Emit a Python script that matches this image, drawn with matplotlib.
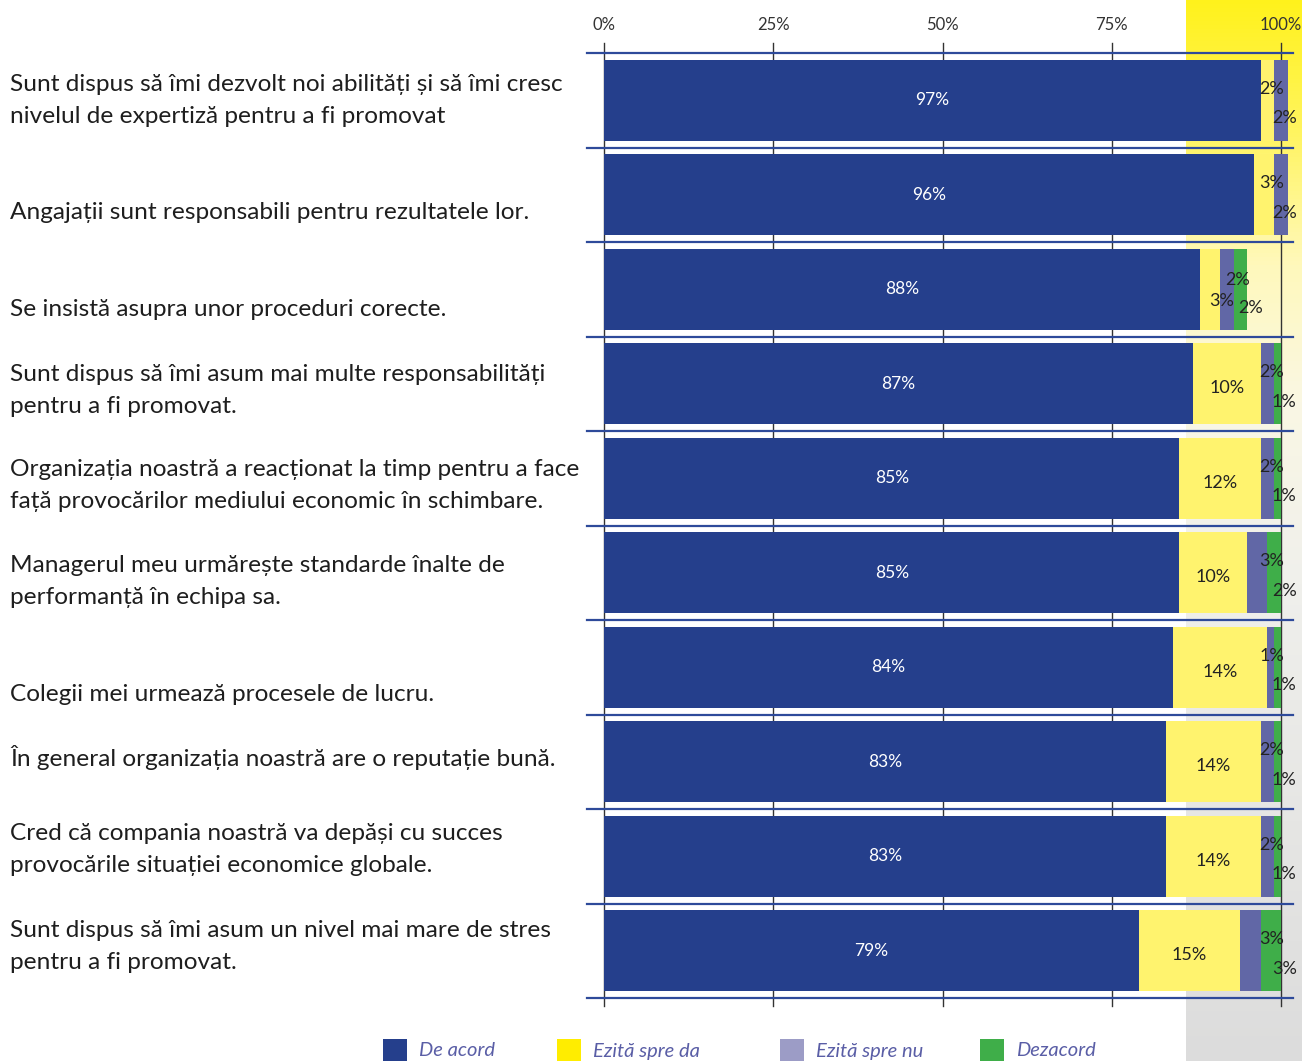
import numpy as np
import matplotlib
matplotlib.use("Agg")
import matplotlib.pyplot as plt
from matplotlib.colors import LinearSegmentedColormap
from matplotlib.patches import Rectangle
import matplotlib.transforms as mtransforms

plt.rcParams['font.family'] = ['Lato', 'DejaVu Sans']

categories = [
    "Sunt dispus să îmi dezvolt noi abilități și să îmi cresc\nnivelul de expertiză pentru a fi promovat",
    "Angajații sunt responsabili pentru rezultatele lor.",
    "Se insistă asupra unor proceduri corecte.",
    "Sunt dispus să îmi asum mai multe responsabilități\npentru a fi promovat.",
    "Organizația noastră a reacționat la timp pentru a face\nfață provocărilor mediului economic în schimbare.",
    "Managerul meu urmărește standarde înalte de\nperformanță în echipa sa.",
    "Colegii mei urmează procesele de lucru.",
    "În general organizația noastră are o reputație bună.",
    "Cred că compania noastră va depăși cu succes\nprovocările situației economice globale.",
    "Sunt dispus să îmi asum un nivel mai mare de stres\npentru a fi promovat.",
]
de_acord = [97, 96, 88, 87, 85, 85, 84, 83, 83, 79]
spre_da = [2, 3, 3, 10, 12, 10, 14, 14, 14, 15]
spre_nu = [2, 2, 2, 2, 2, 3, 1, 2, 2, 3]
dezacord = [0, 0, 2, 1, 1, 2, 1, 1, 1, 3]

series_names = ["De acord", "Ezită spre da", "Ezită spre nu", "Dezacord"]
bar_colors = ["#253F8C", "#FFF36E", "#6167A6", "#3FAE49"]
legend_colors = ["#253F8C", "#FFED00", "#9C9CC6", "#3FAE49"]
x_ticks = [0, 25, 50, 75, 100]

# vertical nudges for the question text (in row units)
label_shift = [0, .19, .21, .07, .08, .09, .29, -.04, -.07, -.04]

W, H = 1302, 1061
fig = plt.figure(figsize=(W / 100, H / 100), dpi=100)
fig.patch.set_facecolor("white")

# yellow -> grey band on the right
bg = fig.add_axes([1186 / W, 0, 1 - 1186 / W, 1], zorder=-5)
cmap = LinearSegmentedColormap.from_list("band", [
    (0.0, "#FFF21C"), (0.12, "#FFF45E"), (0.25, "#FFF9BC"),
    (0.38, "#FAF7E4"), (0.55, "#F0F0EC"), (1.0, "#DCDCDC")])
grad = np.linspace(0, 1, 256).reshape(-1, 1)
bg.imshow(grad, aspect="auto", cmap=cmap, extent=[0, 1, 1, 0])
bg.axis("off")

ax = fig.add_axes([604 / W, 1 - 998 / H, 677 / W, (998 - 53) / H])
ax.patch.set_alpha(0)
ax.set_xlim(0, 100)
ax.set_ylim(9.5, -0.5)
ax.axis("off")

n = len(categories)
y = np.arange(n)
series = [de_acord, spre_da, spre_nu, dezacord]

# grid lines behind the bars
for t in x_ticks:
    ax.plot([t, t], [-0.61, 9.58], color="#333333", lw=1, zorder=1, clip_on=False)
    ax.text(t, -0.80, f"{t}%", ha="center", va="center", fontsize=12,
            color="#333333", clip_on=False)
for s in np.arange(-0.5, n, 1.0):
    ax.plot([-2.5, 101.8], [s, s], color="#2E4A9A", lw=1.6, zorder=2, clip_on=False)

left = np.zeros(n)
for vals, col in zip(series, bar_colors):
    ax.barh(y, vals, left=left, height=0.86, color=col, zorder=3, clip_on=False)
    left = left + np.array(vals)
totals = left

for i in range(n):
    # big segments: centred labels
    ax.text(de_acord[i] / 2, i, f"{de_acord[i]}%", ha="center", va="center",
            color="white", fontsize=12.5, zorder=5)
    small = []
    if spre_da[i] >= 5:
        ax.text(de_acord[i] + spre_da[i] / 2, i + 0.05, f"{spre_da[i]}%",
                ha="center", va="center", color="#222222", fontsize=13, zorder=5)
    else:
        small.append(spre_da[i])
    small += [v for v in (spre_nu[i], dezacord[i]) if v > 0]
    # small segments are stacked around the end of the bar
    end = min(totals[i], 100)
    if len(small) == 3:
        spots = [(-3.7, 0.12), (-1.4, -0.10), (0.5, 0.20)]
    else:
        spots = [(-1.4, -0.12), (0.5, 0.19)]
    for v, (dx, dy) in zip(small, spots):
        ax.text(end + dx, i + dy, f"{v}%", ha="center", va="center", color="#222222",
                fontsize=13, zorder=6, clip_on=False)

trans = mtransforms.blended_transform_factory(fig.transFigure, ax.transData)
for i, cat in enumerate(categories):
    ax.text(10 / W, i + label_shift[i], cat, transform=trans, ha="left", va="center",
            fontsize=17.6, color="#1E1E1E", linespacing=1.65)

# legend row at the bottom
leg_x = [383, 557, 780, 980]
for name, col, lx in zip(series_names, legend_colors, leg_x):
    fig.patches.append(Rectangle((lx / W, 0), 24 / W, 22 / H, transform=fig.transFigure,
                                 facecolor=col, edgecolor="none"))
    fig.text((lx + 36) / W, 10 / H, name, ha="left", va="center", fontsize=14.5,
             style="italic", color="#5A5EA6")

fig.savefig("out.png", dpi=100)
